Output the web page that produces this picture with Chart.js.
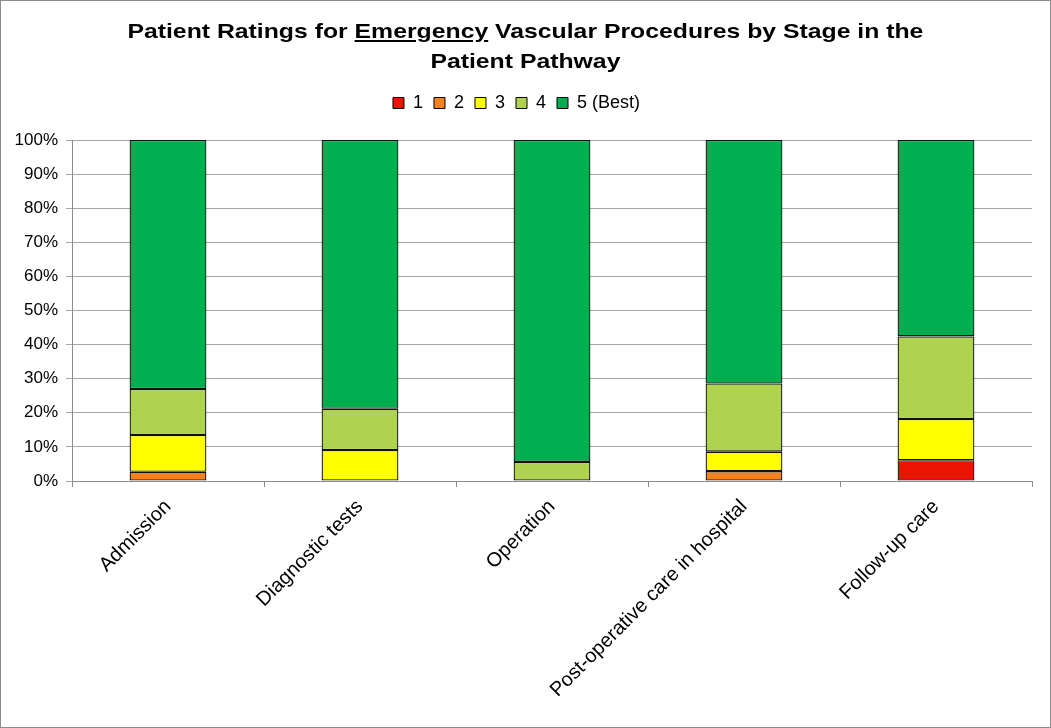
<!DOCTYPE html>
<html>
<head>
<meta charset="utf-8">
<script src="https://cdn.jsdelivr.net/npm/chart.js@4.4.0/dist/chart.umd.min.js"></script>
<style>
  html, body { margin: 0; padding: 0; background: #fff; }
  #wrap { position: relative; width: 1051px; height: 728px; box-sizing: border-box; border: 1px solid #8c8c8c; }
  #title { position: absolute; left: 0; top: 15px; width: 1049px; text-align: center; font-family: "Liberation Sans", Arial, sans-serif; font-weight: bold; font-size: 21px; line-height: 30px; color: #000; transform: scaleX(1.18); transform-origin: 525px 0; }
  canvas { position: absolute; left: 0; top: 0; }
</style>
</head>
<body>
<div id="wrap">
  <canvas id="c" width="1049" height="726"></canvas>
  <div id="title">Patient Ratings for <u>Emergency</u> Vascular Procedures by Stage in the<br>Patient Pathway</div>
</div>
<script>
const categories = ["Admission", "Diagnostic tests", "Operation", "Post-operative care in hospital", "Follow-up care"];
const seriesNames = ["1", "2", "3", "4", "5 (Best)"];
const rating1 = [0, 0, 0, 0, 6.1];
const rating2 = [2.7, 0, 0, 2.9, 0];
const rating3 = [10.8, 9.1, 0, 5.7, 12.1];
const rating4 = [13.5, 12.1, 5.6, 20.0, 24.2];
const rating5 = [73.0, 78.8, 94.4, 71.4, 57.6];
const yTicks = [0, 10, 20, 30, 40, 50, 60, 70, 80, 90, 100];

const colors = ["#EC1300", "#F5821F", "#FFFF00", "#AFD350", "#00AD4F"];
const seriesData = [rating1, rating2, rating3, rating4, rating5];

const datasets = seriesNames.map((name, i) => ({
  label: name,
  data: seriesData[i],
  backgroundColor: colors[i],
  borderColor: "#111",
  borderWidth: ctx => (ctx.raw === 0 ? 0 : 1.3),
  borderSkipped: false,
  barPercentage: 0.4,
  categoryPercentage: 1.0
}));

const fam = "'Liberation Sans', Arial, sans-serif";

const legendMargin = {
  id: "legendMargin",
  beforeInit(chart) {
    const fit = chart.legend.fit;
    chart.legend.fit = function () {
      fit.bind(chart.legend)();
      this.height += 18;
    };
  }
};

new Chart(document.getElementById("c"), {
  type: "bar",
  data: { labels: categories, datasets },
  plugins: [legendMargin],
  options: {
    responsive: false,
    animation: false,
    layout: { padding: { top: 82, right: 18, left: 0, bottom: 0 } },
    plugins: {
      title: { display: false },
      tooltip: { enabled: false },
      legend: {
        position: "top",
        labels: {
          boxWidth: 11, boxHeight: 11, font: { family: fam, size: 18 }, color: "#000", padding: 11,
          generateLabels: chart => Chart.defaults.plugins.legend.labels.generateLabels(chart).map(l => ({ ...l, lineWidth: 1, strokeStyle: "#000" }))
        }
      }
    },
    scales: {
      x: {
        stacked: true,
        grid: { display: true, drawOnChartArea: false, offset: true, color: "#8c8c8c", tickLength: 6 },
        border: { color: "#8c8c8c" },
        ticks: { font: { family: fam, size: 20 }, color: "#000", maxRotation: 45, minRotation: 45, padding: 8 },
        afterFit: s => { s.height = 726 - 480; }
      },
      y: {
        stacked: true,
        min: 0, max: 100,
        afterBuildTicks: s => { s.ticks = yTicks.map(v => ({ value: v })); },
        grid: { color: "#a6a6a6", tickLength: 6 },
        border: { color: "#8c8c8c" },
        ticks: { font: { family: fam, size: 17 }, color: "#000", callback: v => v + "%", padding: 8 },
        afterFit: s => { s.width = 71; }
      }
    }
  }
});
</script>
</body>
</html>
